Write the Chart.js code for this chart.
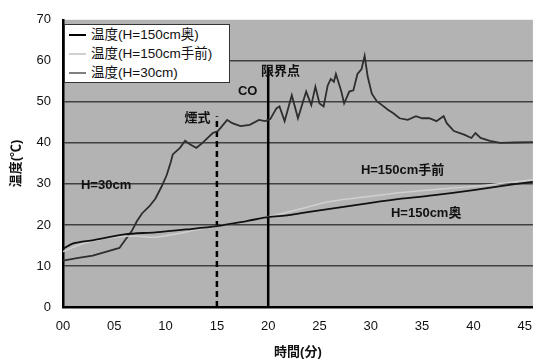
<!DOCTYPE html>
<html>
<head>
<meta charset="utf-8">
<script src="https://cdn.jsdelivr.net/npm/chart.js@4.4.0/dist/chart.umd.min.js"></script>
<style>
  html, body { margin: 0; padding: 0; background: #fff; }
  #wrap { position: relative; width: 544px; height: 360px; }
  #legendBox {
    position: absolute; left: 64px; top: 24px; width: 164px; height: 57px;
    background: #fff; border: 1px solid #333;
    font-family: "Liberation Sans", "Noto Sans CJK JP", sans-serif; font-size: 13.5px; color: #111;
  }
  .item { position: absolute; left: 4px; height: 18px; line-height: 18px; white-space: nowrap; }
  .item span.sw { display: inline-block; width: 17px; height: 0; border-top: 2px solid #000; vertical-align: middle; margin-right: 5px; }
</style>
</head>
<body>
<div id="wrap">
  <canvas id="chart" width="544" height="360"></canvas>
  <div id="legendBox">
    <div class="item" style="top:1px"><span class="sw" style="border-color:#000"></span>温度(H=150cm奥)</div>
    <div class="item" style="top:20px"><span class="sw" style="border-color:#d0d0d0"></span>温度(H=150cm手前)</div>
    <div class="item" style="top:39px"><span class="sw" style="border-color:#808080"></span>温度(H=30cm)</div>
  </div>
</div>
<script>
// --- DATOS ---
const timeBack = [0, 1, 3, 6, 9, 12, 15, 18, 20, 22, 24, 27, 30, 33, 36, 40, 43, 45.8];
const tempBack = [14.2, 15.5, 16.3, 17.7, 18.2, 18.9, 19.7, 21.0, 21.9, 22.4, 23.2, 24.3, 25.4, 26.4, 27.2, 28.5, 29.6, 30.5];

const timeFront = [0, 2, 5, 7, 9, 11, 13, 15, 18, 20, 23, 26, 30, 33, 36, 40, 43, 45.8];
const tempFront = [13.5, 15.5, 17.0, 17.3, 17.0, 17.8, 18.8, 19.7, 21.0, 22.0, 23.8, 25.7, 27.0, 27.9, 28.6, 29.4, 30.2, 31.0];

const timeLow = [0, 1.5, 2.9, 4.5, 5.5, 6.2, 6.7, 7.2, 7.7, 8.4, 9.0, 9.6, 10.1, 10.5, 10.7, 11.4, 11.9, 12.4, 13.0, 13.6,
  14.1, 14.6, 15.1, 15.5, 16.0, 16.5, 17.3, 18.2, 19.1, 19.7, 20.2, 20.8, 21.1, 21.6, 22.3, 22.9, 23.7, 24.2, 24.6, 25.0,
  25.4, 25.8, 26.1, 26.4, 26.6, 27.1, 27.4, 27.9, 28.3, 28.7, 29.1, 29.4, 29.7, 30.1, 30.6, 31.1, 31.7, 32.2, 32.8, 33.6,
  34.4, 35.0, 35.7, 36.4, 36.8, 37.1, 37.4, 38.1, 39.1, 39.8, 40.2, 40.7, 41.6, 42.6, 44.0, 45.8];
const tempLow = [11.3, 12.0, 12.5, 13.7, 14.4, 16.8, 18.5, 20.9, 22.8, 24.5, 26.4, 29.3, 32.1, 35.3, 37.2, 38.8, 40.5, 39.6, 38.8, 40.0,
  41.2, 42.4, 42.9, 44.1, 45.6, 44.8, 44.1, 44.4, 45.6, 45.3, 45.8, 48.4, 48.9, 45.3, 51.6, 46.0, 52.5, 49.2, 53.7, 49.6,
  48.9, 54.0, 55.6, 54.9, 56.8, 52.8, 49.6, 52.5, 52.8, 56.8, 58.0, 61.2, 56.1, 52.0, 50.1, 49.2, 48.0, 47.2, 46.0, 45.6,
  46.5, 46.0, 46.0, 45.3, 46.0, 46.5, 44.8, 42.9, 42.0, 41.2, 42.4, 41.2, 40.5, 40.0, 40.1, 40.2];

// vertical markers (time, top temperature)
const markerTimes = [15, 20];
const markerTops = [46.5, 58.5];

const xTicks = [0, 5, 10, 15, 20, 25, 30, 35, 40, 45];

// text labels on the plot: [text, time, temp]
const plotLabels = [
  ['煙式', 13.1, 46.0],
  ['CO', 18.0, 52.5],
  ['限界点', 21.2, 57.3],
  ['H=30cm', 4.2, 29.6],
  ['H=150cm手前', 33.1, 33.3],
  ['H=150cm奥', 35.4, 22.8]
];

function toPoints(xs, ys) {
  return xs.map((x, i) => ({ x: x, y: ys[i] }));
}

const plotBg = {
  id: 'plotBg',
  beforeDraw(chart) {
    const a = chart.chartArea, ctx = chart.ctx;
    ctx.save();
    ctx.fillStyle = '#b3b3b3';
    ctx.fillRect(a.left, a.top, a.right - a.left, a.bottom - a.top);
    ctx.restore();
  }
};

const textLabels = {
  id: 'textLabels',
  afterDatasetsDraw(chart) {
    const ctx = chart.ctx, xs = chart.scales.x, ys = chart.scales.y;
    ctx.save();
    ctx.fillStyle = '#111';
    ctx.font = 'bold 13px "Liberation Sans", "Noto Sans CJK JP", sans-serif';
    ctx.textAlign = 'center';
    ctx.textBaseline = 'middle';
    plotLabels.forEach(l => {
      ctx.fillText(l[0], xs.getPixelForValue(l[1]), ys.getPixelForValue(l[2]));
    });
    ctx.restore();
  }
};

Chart.defaults.font.family = '"Liberation Sans", "Noto Sans CJK JP", sans-serif';
Chart.defaults.color = '#111';

new Chart(document.getElementById('chart'), {
  type: 'line',
  data: {
    datasets: [
      { label: '温度(H=150cm奥)', data: toPoints(timeBack, tempBack), borderColor: '#111', borderWidth: 1.8, pointRadius: 0, tension: 0.3 },
      { label: '温度(H=150cm手前)', data: toPoints(timeFront, tempFront), borderColor: '#d0d0d0', borderWidth: 1.5, pointRadius: 0, tension: 0.3 },
      { label: '温度(H=30cm)', data: toPoints(timeLow, tempLow), borderColor: '#2e2e2e', borderWidth: 1.8, pointRadius: 0, tension: 0 },
      { label: 'm15', data: [{ x: markerTimes[0], y: 0 }, { x: markerTimes[0], y: markerTops[0] }], borderColor: '#000', borderWidth: 2.5, borderDash: [6, 4], pointRadius: 0 },
      { label: 'm20', data: [{ x: markerTimes[1], y: 0 }, { x: markerTimes[1], y: markerTops[1] }], borderColor: '#000', borderWidth: 2.5, pointRadius: 0 }
    ]
  },
  options: {
    responsive: false,
    animation: false,
    layout: { padding: { left: 0, right: 4, top: 15, bottom: 0 } },
    plugins: { legend: { display: false }, tooltip: { enabled: false } },
    scales: {
      x: {
        type: 'linear', min: 0, max: 45.8,
        afterBuildTicks: s => { s.ticks = xTicks.map(v => ({ value: v })); },
        afterFit: s => { s.height = 53; },
        grid: { display: false, drawTicks: false },
        border: { display: true, color: '#000', width: 2.5 },
        ticks: { padding: 12, font: { size: 13 }, callback: v => String(v).padStart(2, '0'), maxRotation: 0 },
        title: { display: true, text: '時間(分)', font: { size: 13, weight: 'bold' }, padding: { top: 0, bottom: 0 } }
      },
      y: {
        min: 0, max: 70,
        afterFit: s => { s.width = 63; },
        grid: {
          drawTicks: false,
          color: c => (c.tick.value === 0 || c.tick.value === 70) ? 'rgba(0,0,0,0)' : '#404040',
          lineWidth: 1.5
        },
        border: { display: true, color: '#000', width: 2.5 },
        ticks: { stepSize: 10, padding: 12, font: { size: 13 } },
        title: { display: true, text: '温度(℃)', font: { size: 13, weight: 'bold' }, padding: { top: 9, bottom: 0 } }
      }
    }
  },
  plugins: [plotBg, textLabels]
});
</script>
</body>
</html>
